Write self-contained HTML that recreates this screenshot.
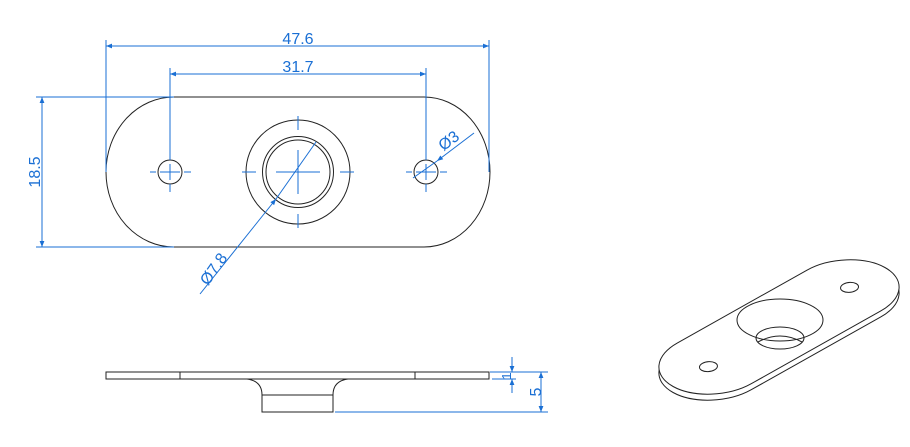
<!DOCTYPE html>
<html><head><meta charset="utf-8"><style>
html,body{margin:0;padding:0;background:#fff;}
svg{display:block;}
text{font-family:"Liberation Sans",sans-serif;fill:#1a6fd4;font-size:16px;}
</style></head><body>
<svg width="910" height="447" viewBox="0 0 910 447" xmlns="http://www.w3.org/2000/svg">
<defs>
<marker id="a" viewBox="0 0 10 10" refX="10" refY="5" markerWidth="8" markerHeight="6" orient="auto-start-reverse" markerUnits="userSpaceOnUse"><path d="M0,1 L10,5 L0,9 z" fill="#1a6fd4"/></marker>
</defs>
<g fill="none" stroke="#222" stroke-width="1">
<path d="M174,97 L424,97 A66,75 0 0 1 424,247 L174,247 A68,75 0 0 1 174,97 Z"/>
<circle cx="170" cy="172" r="12"/>
<circle cx="426" cy="172" r="12"/>
<circle cx="298" cy="172" r="52"/>
<circle cx="298" cy="172" r="35.5"/>
<circle cx="298" cy="172" r="32"/>
</g>
<g stroke="#1a6fd4" stroke-width="1" fill="none">
<path d="M150,172h6M160,172h20M184,172h7M170,118v42M170,164v16M170,184v8"/>
<path d="M406,172h6M416,172h20M440,172h7M426,118v42M426,164v16M426,184v8"/>
<path d="M242,172h14M276,172h44M340,172h14M298,116v14M298,150v44M298,214v14"/>
<line x1="106" y1="40" x2="106" y2="172"/>
<line x1="489" y1="40" x2="489" y2="172"/>
<line x1="106" y1="46" x2="489" y2="46" marker-start="url(#a)" marker-end="url(#a)"/>
<line x1="170" y1="68" x2="170" y2="118"/>
<line x1="426" y1="68" x2="426" y2="118"/>
<line x1="170" y1="74" x2="426" y2="74" marker-start="url(#a)" marker-end="url(#a)"/>
<line x1="36" y1="97" x2="174" y2="97"/>
<line x1="36" y1="247" x2="174" y2="247"/>
<line x1="42" y1="97" x2="42" y2="247" marker-start="url(#a)" marker-end="url(#a)"/>
<line x1="200" y1="294" x2="276" y2="199" marker-end="url(#a)"/>
<line x1="276" y1="199" x2="316" y2="142"/>
<line x1="474" y1="133" x2="437" y2="161" marker-end="url(#a)"/>
<line x1="437" y1="161" x2="413" y2="178"/>
</g>
<text x="298" y="44" text-anchor="middle">47.6</text>
<text x="298" y="72" text-anchor="middle">31.7</text>
<text transform="translate(40,172) rotate(-90)" text-anchor="middle">18.5</text>
<text transform="translate(218,272) rotate(-55)" text-anchor="middle">Ø7.8</text>
<text transform="translate(452,145) rotate(-37)" text-anchor="middle">Ø3</text>
<g fill="none" stroke="#222" stroke-width="1">
<rect x="106" y="372" width="383" height="7"/>
<line x1="180" y1="372" x2="180" y2="379"/>
<line x1="415" y1="372" x2="415" y2="379"/>
<path d="M247,379 Q262,381 262,395 L262,412 L333,412 L333,395 Q333,381 348,379"/>
<line x1="262" y1="395" x2="333" y2="395"/>
</g>
<g stroke="#1a6fd4" stroke-width="1" fill="none">
<line x1="490" y1="372" x2="548" y2="372"/>
<line x1="492" y1="379" x2="516" y2="379"/>
<line x1="335" y1="412" x2="548" y2="412"/>
<line x1="512" y1="357" x2="512" y2="372" marker-end="url(#a)"/>
<line x1="512" y1="393" x2="512" y2="379" marker-end="url(#a)"/>
<line x1="541" y1="372" x2="541" y2="412" marker-start="url(#a)" marker-end="url(#a)"/>
</g>
<text transform="translate(511,376) rotate(-90)" text-anchor="middle" style="font-size:13px">1</text>
<text transform="translate(541,392) rotate(-90)" text-anchor="middle">5</text>
<g fill="none" stroke="#222" stroke-width="1">
<g transform="matrix(4.45,-2.5,4.0,2.2,779,333)">
<rect x="-23.8" y="-9.25" width="47.6" height="18.5" rx="9.25" vector-effect="non-scaling-stroke"/>
</g>
<g transform="matrix(4.45,-2.5,4.0,2.2,779,327)">
<rect x="-23.8" y="-9.25" width="47.6" height="18.5" rx="9.25" fill="#fff" vector-effect="non-scaling-stroke"/>
<circle cx="-15.85" cy="0" r="1.5" vector-effect="non-scaling-stroke"/>
<circle cx="15.85" cy="0" r="1.5" vector-effect="non-scaling-stroke"/>
</g>
<ellipse cx="780" cy="320" rx="43" ry="21"/>
<ellipse cx="780" cy="338" rx="24" ry="11"/>
<path d="M758,342 Q780,330 802,342"/>
</g>
</svg>
</body></html>
